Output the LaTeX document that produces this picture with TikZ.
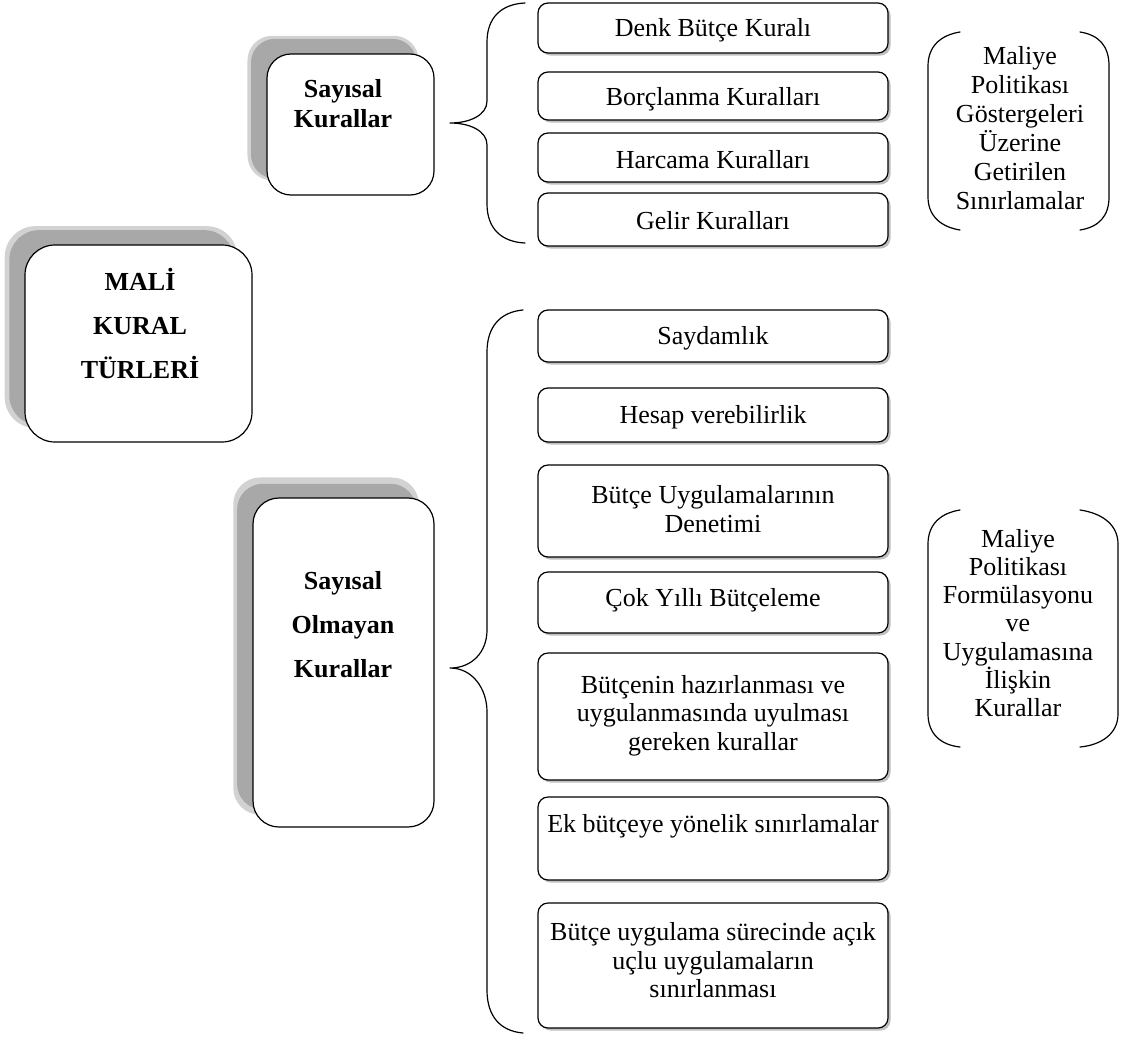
\documentclass[tikz,border=0pt]{standalone}
\usepackage{fontspec}
\setmainfont{Liberation Serif}
\usetikzlibrary{shadows}
\begin{document}
\begin{tikzpicture}[x=1pt,y=-1pt,
  every node/.style={font=\fontsize{26}{28.5}\selectfont, align=center, inner sep=0pt},
  item/.style={draw=black, line width=1.2pt, rounded corners=10pt, fill=white,
    minimum width=350pt,
    drop shadow={shadow xshift=2.5pt, shadow yshift=-2.5pt, fill=gray!50, opacity=1}},
  bigbox/.style={draw=black, line width=1.2pt, fill=white,
    drop shadow={shadow xshift=-17pt, shadow yshift=16pt, shadow scale=1.025, fill=gray!35, opacity=1},
    drop shadow={shadow xshift=-17pt, shadow yshift=16pt, shadow scale=0.99, fill=gray!68, opacity=1}},
  boldtext/.style={font=\fontsize{26}{44}\selectfont\bfseries},
  bline/.style={line width=1.2pt, line join=round, line cap=round}
]
\useasboundingbox (0,0) rectangle (1134,1036);

% ---- big boxes
\node[bigbox, rounded corners=30pt, minimum width=227pt, minimum height=197pt] (mali) at (138.5,343.5) {};
\node[boldtext] (malit) at (140,323) {MALİ\\KURAL\\TÜRLERİ};

\node[bigbox, rounded corners=24pt, minimum width=167pt, minimum height=141pt] (sk) at (350.5,124.5) {};
\node[boldtext, font=\fontsize{26}{30}\selectfont\bfseries] (skt) at (343,104) {Sayısal\\Kurallar};

\node[bigbox, rounded corners=26pt, minimum width=181pt, minimum height=329pt] (sok) at (343.5,662.5) {};
\node[boldtext] (sokt) at (343,625) {Sayısal\\Olmayan\\Kurallar};

% ---- group 1 boxes
\node[item, minimum height=50pt] (denk) at (713,28) {};
\node (denkt) at (713,30) {Denk Bütçe Kuralı};
\node[item, minimum height=48pt] (borc) at (713,96) {};
\node (borct) at (713,99) {Borçlanma Kuralları};
\node[item, minimum height=49pt] (harc) at (713,157.5) {};
\node (harct) at (713,160) {Harcama Kuralları};
\node[item, minimum height=53pt] (gelir) at (713,219.5) {};
\node (gelirt) at (713,221) {Gelir Kuralları};

% ---- group 2 boxes
\node[item, minimum height=52pt] (sayd) at (713,336) {};
\node (saydt) at (713,338) {Saydamlık};
\node[item, minimum height=54pt] (hesap) at (713,415) {};
\node (hesapt) at (713,417) {Hesap verebilirlik};
\node[item, minimum height=92pt] (denet) at (713,511) {};
\node (denett) at (713,509) {Bütçe Uygulamalarının\\Denetimi};
\node[item, minimum height=61pt] (cok) at (713,602.5) {};
\node (cokt) at (713,600) {Çok Yıllı Bütçeleme};
\node[item, minimum height=127pt] (hazir) at (713,716.5) {};
\node (hazirt) at (713,715.5) {Bütçenin hazırlanması ve\\uygulanmasında uyulması\\gereken kurallar};
\node[item, minimum height=83pt] (ek) at (713,838.5) {};
\node (ekt) at (713,826) {Ek bütçeye yönelik sınırlamalar};
\node[item, minimum height=125pt] (acik) at (713,965.5) {};
\node (acikt) at (713,960.5) {Bütçe uygulama sürecinde açık\\uçlu uygulamaların\\sınırlanması};

% ---- braces
\coordinate (b1a) at (525,3);
\coordinate (b1tip) at (450,123);
\coordinate (b1b) at (525,243);
\draw[bline] (b1a) .. controls (502,4) and (487,17) .. (487,42) -- (487,101)
  .. controls (487,115) and (470,123) .. (b1tip)
  .. controls (470,123) and (487,131) .. (487,145) -- (487,204)
  .. controls (487,229) and (502,242) .. (b1b);

\coordinate (b2a) at (523,310);
\coordinate (b2tip) at (450,668);
\coordinate (b2b) at (523,1033);
\draw[bline] (b2a) .. controls (500,312) and (487,327) .. (487,352) -- (487,630)
  .. controls (487,652) and (472,668) .. (b2tip)
  .. controls (472,668) and (487,688) .. (487,712) -- (487,990)
  .. controls (487,1016) and (500,1031) .. (b2b);

% ---- round brackets
\draw[bline] (960,32) .. controls (941,35) and (928,46) .. (928,66) -- (928,197)
  .. controls (928,216) and (941,227) .. (960,230);
\draw[bline] (1080,32) .. controls (1099,35) and (1109,46) .. (1109,66) -- (1109,197)
  .. controls (1109,216) and (1099,227) .. (1080,230);
\node[font=\fontsize{26}{29}\selectfont] (mp1) at (1020,128) {Maliye\\Politikası\\Göstergeleri\\Üzerine\\Getirilen\\Sınırlamalar};

\draw[bline] (960,510) .. controls (941,513) and (928,524) .. (928,544) -- (928,714)
  .. controls (928,734) and (941,745) .. (960,747);
\draw[bline] (1080,510) .. controls (1101,513) and (1118,524) .. (1118,544) -- (1118,714)
  .. controls (1118,734) and (1101,745) .. (1080,747);
\node[font=\fontsize{26}{28.2}\selectfont] (mp2) at (1018,623) {Maliye\\Politikası\\Formülasyonu\\ve\\Uygulamasına\\İlişkin\\Kurallar};
\end{tikzpicture}
\end{document}
